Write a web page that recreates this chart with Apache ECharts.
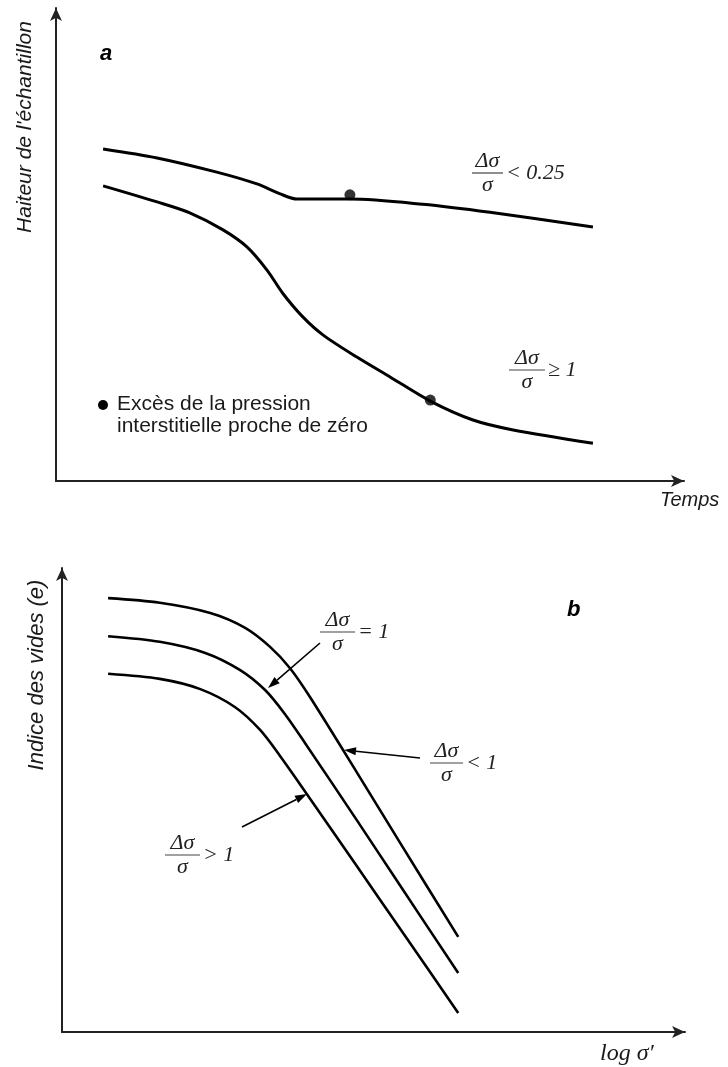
<!DOCTYPE html>
<html>
<head>
<meta charset="utf-8">
<script src="https://cdn.jsdelivr.net/npm/echarts@6/dist/echarts.min.js"></script>
<style>
  html, body { margin: 0; padding: 0; background: #fff; }
  #chart { width: 728px; height: 1067px; }
</style>
</head>
<body>
<div id="chart"></div>
<script>
// Panel a: sample height versus time (arbitrary units 0–10)
const curveLowRatio = [
  [0.75, 7.02], [1.61, 6.83], [2.56, 6.53], [3.20, 6.28], [3.57, 6.07],
  [3.84, 5.96], [4.68, 5.96], [5.84, 5.85], [6.91, 5.68], [8.55, 5.37]
];
const curveHighRatio = [
  [0.75, 6.24], [1.61, 5.90], [2.13, 5.67], [2.66, 5.31], [3.04, 4.95],
  [3.36, 4.46], [3.61, 3.97], [3.93, 3.47], [4.25, 3.09], [4.79, 2.62],
  [5.32, 2.20], [5.96, 1.69], [6.64, 1.29], [7.28, 1.08], [8.55, 0.80]
];
// points where the excess pore pressure is close to zero
const zeroPorePressure = [[4.68, 6.05], [5.96, 1.71]];

// Panel b: void ratio versus log of effective stress (arbitrary units 0–10)
const curveRatioBelow1 = [
  [0.74, 9.35], [1.57, 9.25], [2.38, 9.03], [2.94, 8.71], [3.34, 8.30],
  [3.66, 7.84], [3.98, 7.22], [4.74, 5.58], [5.43, 4.07], [6.36, 2.05]
];
const curveRatioEq1 = [
  [0.74, 8.53], [1.57, 8.41], [2.30, 8.17], [2.86, 7.80], [3.26, 7.37],
  [3.58, 6.85], [3.90, 6.23], [4.74, 4.55], [5.43, 3.15], [6.36, 1.27]
];
const curveRatioAbove1 = [
  [0.74, 7.72], [1.57, 7.61], [2.22, 7.39], [2.78, 7.00], [3.18, 6.51],
  [3.50, 5.95], [3.82, 5.34], [4.74, 3.56], [5.43, 2.22], [6.36, 0.41]
];

const SANS = "'Liberation Sans', Arial, sans-serif";
const SERIF = "'Liberation Serif', 'Times New Roman', serif";
const INK = '#1a1a1a';

const chart = echarts.init(document.getElementById('chart'), null, { renderer: 'canvas' });

function plainAxis(gridIndex) {
  return {
    type: 'value', gridIndex, min: 0, max: 10,
    axisLine: { show: true, symbol: ['none', 'arrow'], symbolSize: [9, 13],
      lineStyle: { color: '#222', width: 2 } },
    axisTick: { show: false }, axisLabel: { show: false }, splitLine: { show: false }
  };
}

function curve(data, xi, width) {
  return {
    type: 'line', xAxisIndex: xi, yAxisIndex: xi, data,
    smooth: 0.3,
    showSymbol: false, silent: true,
    lineStyle: { color: '#000', width }
  };
}

// fraction Δσ / σ followed by a relation such as "< 0.25"
function fraction(x, barY, w, rel) {
  const font = `italic 22px ${SERIF}`;
  return [
    { type: 'text', x: x + w / 2, y: barY - 1,
      style: { text: 'Δσ', font, fill: '#222', align: 'center', verticalAlign: 'bottom' } },
    { type: 'line', shape: { x1: x, y1: barY, x2: x + w, y2: barY },
      style: { stroke: '#444', lineWidth: 1.2 } },
    { type: 'text', x: x + w / 2, y: barY + 1,
      style: { text: 'σ', font, fill: '#222', align: 'center', verticalAlign: 'top' } },
    { type: 'text', x: x + w + 3, y: barY,
      style: { text: rel, font, fill: '#222', align: 'left', verticalAlign: 'middle' } }
  ];
}

function arrow(x1, y1, x2, y2) {
  const a = Math.atan2(y2 - y1, x2 - x1);
  const L = 12, W = 4;
  const bx = x2 - L * Math.cos(a), by = y2 - L * Math.sin(a);
  return [
    { type: 'line', shape: { x1, y1, x2: bx, y2: by },
      style: { stroke: '#000', lineWidth: 1.6 } },
    { type: 'polygon', shape: { points: [
        [x2, y2],
        [bx + W * Math.sin(a), by - W * Math.cos(a)],
        [bx - W * Math.sin(a), by + W * Math.cos(a)]
      ] }, style: { fill: '#000' } }
  ];
}

const graphics = [
  // panel letters
  { type: 'text', x: 100, y: 54, style: { text: 'a', font: `italic bold 22px ${SANS}`,
      fill: '#000', verticalAlign: 'middle' } },
  { type: 'text', x: 567, y: 610, style: { text: 'b', font: `italic bold 22px ${SANS}`,
      fill: '#000', verticalAlign: 'middle' } },
  // axis titles
  { type: 'text', x: 25, y: 127, rotation: Math.PI / 2,
    style: { text: "Haiteur de l'échantillon", font: `italic 21px ${SANS}`, fill: INK,
      align: 'center', verticalAlign: 'middle' } },
  { type: 'text', x: 660, y: 500,
    style: { text: 'Temps', font: `italic 20px ${SANS}`, fill: INK,
      align: 'left', verticalAlign: 'middle' } },
  { type: 'text', x: 37, y: 675, rotation: Math.PI / 2,
    style: { text: 'Indice des vides (e)', font: `italic 22px ${SANS}`, fill: INK,
      align: 'center', verticalAlign: 'middle' } },
  { type: 'text', x: 600, y: 1054,
    style: { text: 'log σ′', font: `italic 24px ${SERIF}`, fill: INK,
      align: 'left', verticalAlign: 'middle' } },
  // key for the dots
  { type: 'circle', shape: { cx: 103, cy: 405, r: 5 }, style: { fill: '#000' } },
  { type: 'text', x: 117, y: 404,
    style: { text: 'Excès de la pression', font: `21px ${SANS}`, fill: INK,
      align: 'left', verticalAlign: 'middle' } },
  { type: 'text', x: 117, y: 426,
    style: { text: 'interstitielle proche de zéro', font: `21px ${SANS}`, fill: INK,
      align: 'left', verticalAlign: 'middle' } },
  // curve labels
  ...fraction(472, 173, 31, '< 0.25'),
  ...fraction(509, 370, 36, '≥ 1'),
  ...fraction(320, 632, 35, '= 1'),
  ...fraction(430, 763, 33, '< 1'),
  ...fraction(165, 855, 35, '> 1'),
  // pointer arrows
  ...arrow(320, 643, 268, 688),
  ...arrow(420, 758, 344, 750),
  ...arrow(242, 827, 307, 794)
];

chart.setOption({
  animation: false,
  backgroundColor: '#fff',
  grid: [
    { left: 56, top: 8, width: 628, height: 473 },
    { left: 62, top: 568, width: 623, height: 464 }
  ],
  xAxis: [plainAxis(0), plainAxis(1)],
  yAxis: [plainAxis(0), plainAxis(1)],
  series: [
    curve(curveLowRatio, 0, 3),
    curve(curveHighRatio, 0, 3),
    {
      type: 'scatter', xAxisIndex: 0, yAxisIndex: 0, data: zeroPorePressure,
      symbol: 'circle', symbolSize: 11, itemStyle: { color: '#000' }, silent: true
    },
    curve(curveRatioBelow1, 1, 2.6),
    curve(curveRatioEq1, 1, 2.6),
    curve(curveRatioAbove1, 1, 2.6)
  ],
  graphic: graphics
});
</script>
</body>
</html>
